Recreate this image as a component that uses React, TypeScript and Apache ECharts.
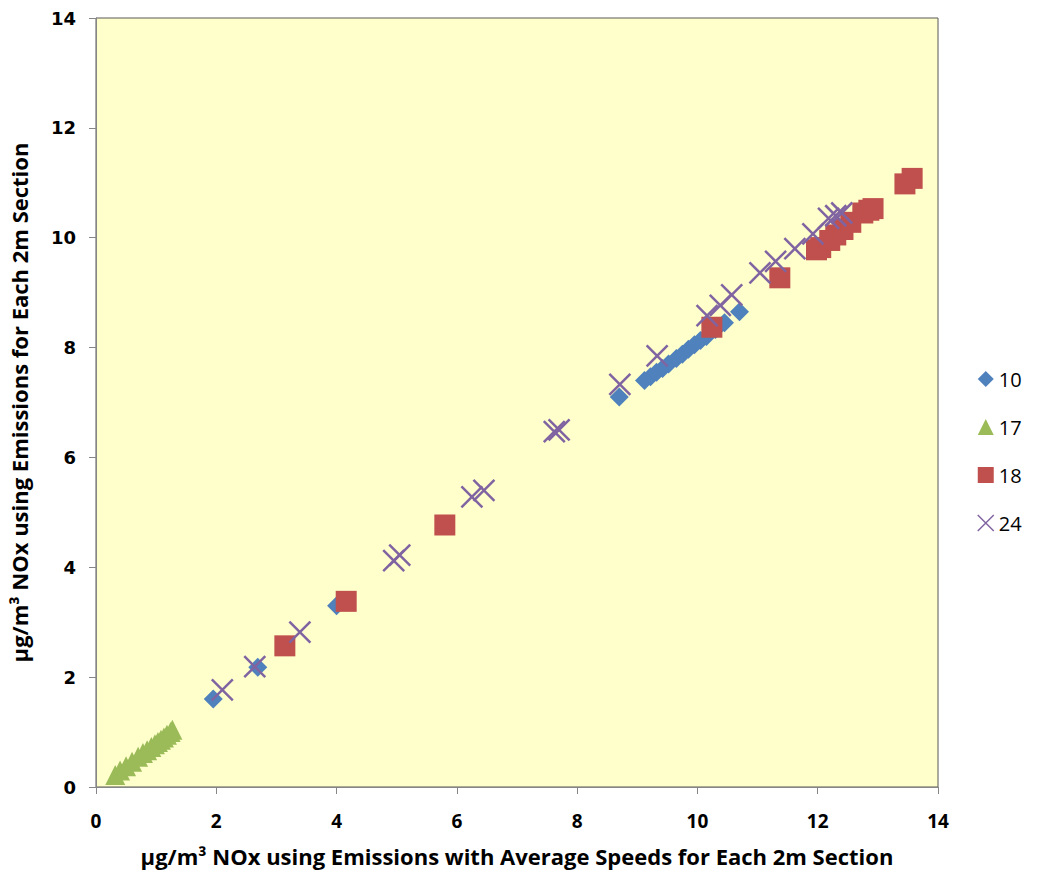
import React, { useEffect, useRef } from "react";
import * as echarts from "echarts";

const seriesNames = ["10", "17", "18", "24"];
const colors = ["#4F81BD", "#9BBB59", "#C0504D", "#8064A2"];

const s10: number[][] = [
  [1.95, 1.6], [2.69, 2.18], [4.0, 3.3], [8.7, 7.1],
  [9.12, 7.4], [9.22, 7.47], [9.32, 7.55], [9.42, 7.62], [9.52, 7.7],
  [9.65, 7.8], [9.75, 7.88], [9.85, 7.97], [9.95, 8.05], [10.05, 8.13],
  [10.15, 8.2], [10.3, 8.33], [10.45, 8.45], [10.7, 8.65],
];
const s17: number[][] = [
  [0.32, 0.22], [0.4, 0.3], [0.5, 0.38], [0.6, 0.46], [0.7, 0.55],
  [0.78, 0.62], [0.85, 0.67], [0.92, 0.73], [0.98, 0.78], [1.03, 0.82],
  [1.08, 0.86], [1.13, 0.9], [1.18, 0.95], [1.24, 1.0], [1.27, 1.04],
];
const s18: number[][] = [
  [3.14, 2.57], [4.16, 3.38], [5.8, 4.77], [10.24, 8.37], [11.37, 9.27],
  [11.98, 9.78], [12.05, 9.82], [12.2, 9.95], [12.3, 10.05], [12.42, 10.15],
  [12.55, 10.28], [12.75, 10.45], [12.85, 10.5], [12.92, 10.53],
  [13.45, 10.98], [13.57, 11.08],
];
const s24: number[][] = [
  [2.1, 1.77], [2.64, 2.19], [3.39, 2.82], [4.95, 4.12], [5.05, 4.22],
  [6.25, 5.28], [6.45, 5.4], [7.62, 6.47], [7.7, 6.5], [8.71, 7.33],
  [9.33, 7.85], [10.16, 8.58], [10.38, 8.77], [10.57, 8.96], [11.04, 9.36],
  [11.3, 9.57], [11.62, 9.8], [11.92, 10.07], [12.18, 10.35], [12.3, 10.4],
  [12.4, 10.45],
];

const xTitle = "µg/m³ NOx using Emissions with Average Speeds for Each 2m Section";
const yTitle = "µg/m³ NOx using Emissions for Each 2m Section";

const xPath = "path://M0,0L10,10M10,0L0,10";

export default function App() {
  const ref = useRef<HTMLDivElement>(null);
  useEffect(() => {
    if (!ref.current) return;
    const chart = echarts.init(ref.current, undefined, { renderer: "svg" });
    const titleFont = "'Open Sans', sans-serif";
    chart.setOption({
      animation: false,
      backgroundColor: "#fff",
      grid: {
        left: 96, top: 18, right: 111, bottom: 92,
        outerBoundsMode: "none",
        containLabel: false,
        show: true, backgroundColor: "#FFFFCC", borderColor: "#595959", borderWidth: 1,
      },
      legend: {
        orient: "vertical",
        left: 972,
        top: 364,
        itemGap: 28,
        itemWidth: 16,
        itemHeight: 16,
        textStyle: { fontSize: 20, color: "#000", fontFamily: "'Open Sans', sans-serif" },
        data: [
          { name: "10", icon: "diamond" },
          { name: "17", icon: "triangle" },
          { name: "18", icon: "rect" },
          { name: "24", icon: xPath, itemStyle: { color: "transparent", borderColor: colors[3], borderWidth: 1.5 } },
        ],
      },
      xAxis: {
        type: "value", min: 0, max: 14, interval: 2,
        splitLine: { show: false },
        axisLine: { lineStyle: { color: "#868686" } },
        axisTick: { show: true, inside: false, length: 7, lineStyle: { color: "#868686" } },
        axisLabel: { fontFamily: "'Open Sans', sans-serif", fontWeight: "bold", fontSize: 19, color: "#000", margin: 24 },
        name: xTitle,
        nameLocation: "middle",
        nameGap: 58,
        nameTextStyle: { fontFamily: titleFont, fontWeight: "bold", fontSize: 22, color: "#000" },
      },
      yAxis: {
        type: "value", min: 0, max: 14, interval: 2,
        splitLine: { show: false },
        axisLine: { show: true, lineStyle: { color: "#868686" } },
        axisTick: { show: true, inside: false, length: 7, lineStyle: { color: "#868686" } },
        axisLabel: { fontFamily: "DejaVu Sans", fontWeight: "bold", fontSize: 18, color: "#000", margin: 20 },
        name: yTitle,
        nameLocation: "middle",
        nameGap: 66,
        nameTextStyle: { fontFamily: titleFont, fontWeight: "bold", fontSize: 22, color: "#000" },
      },
      series: [
        { name: seriesNames[0], type: "scatter", data: s10, symbol: "diamond", symbolSize: 19, itemStyle: { color: colors[0], opacity: 1 } },
        { name: seriesNames[1], type: "scatter", data: s17, symbol: "triangle", symbolSize: 20, itemStyle: { color: colors[1], opacity: 1 } },
        { name: seriesNames[2], type: "scatter", data: s18, symbol: "rect", symbolSize: 21, itemStyle: { color: colors[2], opacity: 1 } },
        {
          name: seriesNames[3], type: "scatter", data: s24, symbol: xPath, symbolSize: 21,
          itemStyle: { color: "transparent", borderColor: colors[3], borderWidth: 2.5, opacity: 1 },
        },
      ],
    });
    return () => chart.dispose();
  }, []);
  return <div ref={ref} style={{ width: 1049, height: 879, margin: -8 }} />;
}
